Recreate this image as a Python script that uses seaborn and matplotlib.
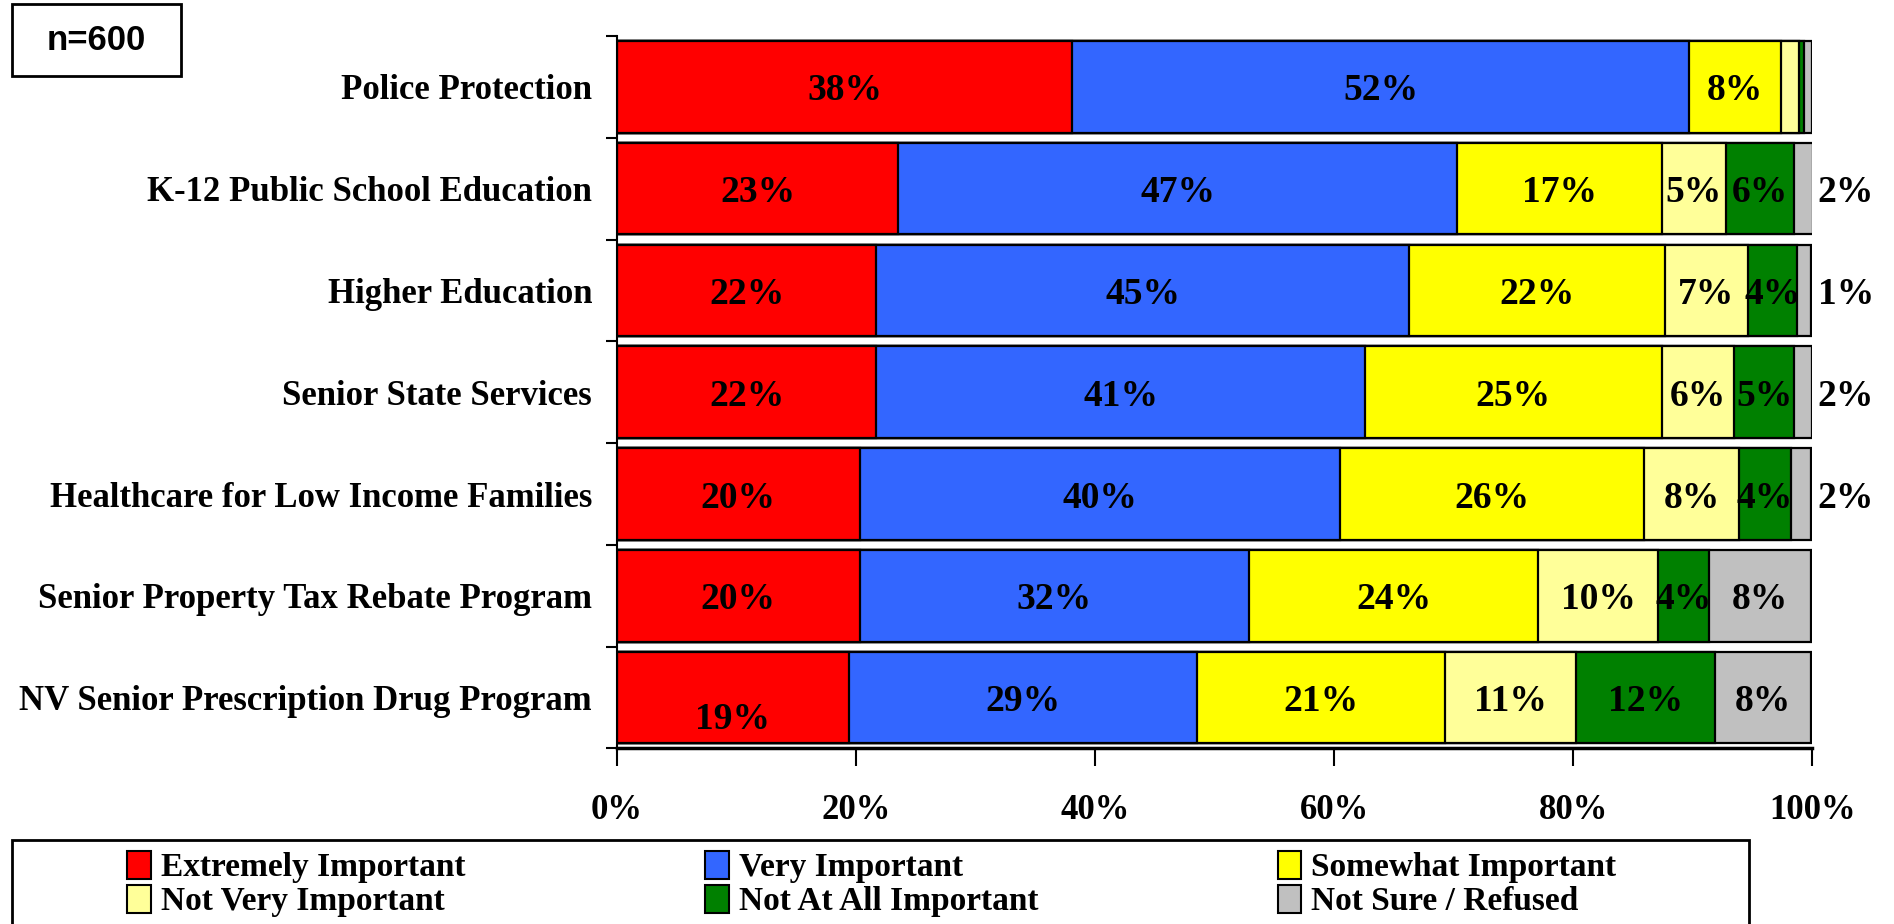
import numpy as np
import pandas as pd
import matplotlib.pyplot as plt
import seaborn as sns
from matplotlib.patches import Patch, Rectangle

# ============ DATA =============
services = ["Police Protection", "K-12 Public School Education", "Higher Education",
            "Senior State Services", "Healthcare for Low Income Families",
            "Senior Property Tax Rebate Program", "NV Senior Prescription Drug Program"]

series_names = ["Extremely Important", "Very Important", "Somewhat Important",
                "Not Very Important", "Not At All Important", "Not Sure / Refused"]

extremely = [38.1, 23.5, 21.7, 21.7, 20.3, 20.3, 19.4]
very = [51.6, 46.8, 44.6, 40.9, 40.2, 32.6, 29.1]
somewhat = [7.7, 17.1, 21.4, 24.8, 25.4, 24.2, 20.8]
not_very = [1.5, 5.4, 6.9, 6.1, 8.0, 10.0, 10.9]
not_at_all = [0.4, 5.7, 4.1, 5.0, 4.3, 4.3, 11.7]
not_sure = [0.7, 1.6, 1.2, 1.5, 1.7, 8.5, 8.0]

# printed percentages (None = no label shown)
lab_extremely = [38, 23, 22, 22, 20, 20, 19]
lab_very = [52, 47, 45, 41, 40, 32, 29]
lab_somewhat = [8, 17, 22, 25, 26, 24, 21]
lab_not_very = [None, 5, 7, 6, 8, 10, 11]
lab_not_at_all = [None, 6, 4, 5, 4, 4, 12]
lab_not_sure = [None, 2, 1, 2, 2, 8, 8]

x_ticks = [0, 20, 40, 60, 80, 100]
sample_note = "n=600"
# ================================

colors = ["#FF0000", "#3366FF", "#FFFF00", "#FFFF99", "#008000", "#C0C0C0"]
values = [extremely, very, somewhat, not_very, not_at_all, not_sure]
labels = [lab_extremely, lab_very, lab_somewhat, lab_not_very, lab_not_at_all, lab_not_sure]

sns.set_style("white")
plt.rcParams["font.family"] = ["Liberation Serif", "DejaVu Serif"]
plt.rcParams["font.weight"] = "bold"
for key in ["text.color", "axes.labelcolor", "xtick.color", "ytick.color", "axes.edgecolor"]:
    plt.rcParams[key] = "black"

fig = plt.figure(figsize=(18.94, 9.24), dpi=100)
ax = fig.add_axes([0.3258, 0.19, 0.631, 0.771])

vals = np.array(values)
cum = np.cumsum(vals, axis=0)

# stacked bars: draw the longest cumulative first, shorter ones on top
for i in range(len(series_names) - 1, -1, -1):
    df = pd.DataFrame({"service": services, "cum": cum[i]})
    sns.barplot(data=df, x="cum", y="service", orient="h", color=colors[i],
                saturation=1, edgecolor="black", linewidth=1.6, width=0.9,
                errorbar=None, ax=ax)

# segment labels
for i in range(len(series_names)):
    for j in range(len(services)):
        lab = labels[i][j]
        if lab is None:
            continue
        start = cum[i][j] - vals[i][j]
        xc = start + vals[i][j] / 2
        yc = j
        if vals[i][j] < 3:
            xc = 102.8
        if i == 0 and j == 6:
            yc = j + 0.18
        ax.text(xc, yc, f"{lab}%", ha="center", va="center_baseline", fontsize=27,
                fontweight="bold", color="black", clip_on=False)

ax.set_xlim(0, 100)
ax.set_ylim(6.5, -0.5)
ax.set_xticks(x_ticks)
ax.set_xticklabels([f"{t}%" for t in x_ticks], fontsize=25, fontweight="bold")
ax.set_xlabel("")
ax.set_ylabel("")
ax.tick_params(axis="y", length=0, pad=18, labelsize=25)
for t in ax.get_yticklabels():
    t.set_fontweight("bold")
ax.set_yticks(np.arange(-0.5, 7, 1), minor=True)
ax.tick_params(axis="y", which="minor", length=8, width=1.5, left=True)
ax.tick_params(axis="x", length=13, width=1.5, bottom=True, pad=20, direction="out")

sns.despine(ax=ax, top=True, right=True)
ax.spines["left"].set_linewidth(1.5)
ax.spines["bottom"].set_linewidth(2.5)

# n=600 box
fig.patches.append(Rectangle((0.0063, 0.9177), 0.0892, 0.078, transform=fig.transFigure,
                             facecolor="white", edgecolor="black", linewidth=2, zorder=0))
fig.text(0.051, 0.9567, sample_note, ha="center", va="center", fontsize=25,
         fontweight="bold", family=["Liberation Sans", "DejaVu Sans"])

# legend box and entries (row-wise order across 3 columns)
fig.patches.append(Rectangle((0.0063, -0.05), 0.917, 0.141, transform=fig.transFigure,
                             facecolor="white", edgecolor="black", linewidth=2, zorder=0))
handles = [Patch(facecolor=c, edgecolor="black", linewidth=1.5) for c in colors]
order = [0, 3, 1, 4, 2, 5]
fig.legend([handles[k] for k in order], [series_names[k] for k in order],
           ncol=3, loc="upper left", bbox_to_anchor=(0.0585, 0.097),
           frameon=False, handlelength=0.7, handleheight=0.9,
           handletextpad=0.3, columnspacing=7.2, labelspacing=0.05,
           borderpad=0, prop={"weight": "bold", "size": 24})

fig.savefig("out.png", dpi=100)
